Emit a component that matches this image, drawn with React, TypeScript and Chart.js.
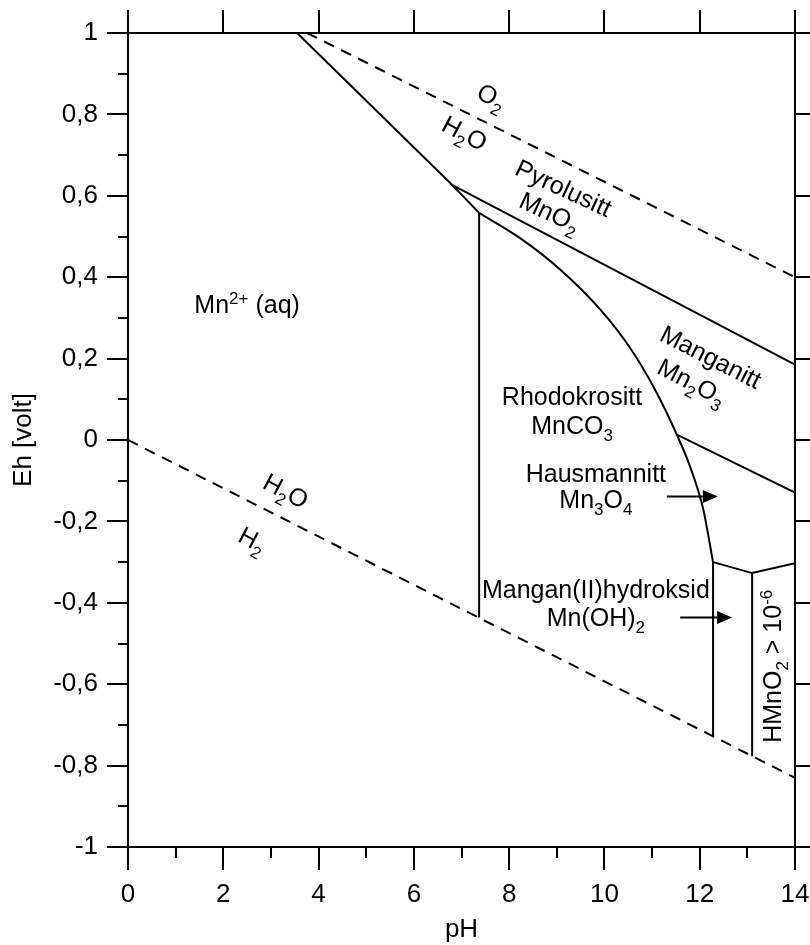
import { useEffect, useRef } from 'react';
import { Chart, registerables } from 'chart.js';

Chart.register(...registerables);

const FONT = '"Liberation Sans", Arial, Helvetica, sans-serif';

// Axis ranges
const PH_MIN = 0;
const PH_MAX = 14;
const EH_MIN = -1;
const EH_MAX = 1;

// Tick spacing (major ticks carry labels)
const PH_MAJOR = 2;
const PH_MINOR = 1;
const EH_MAJOR = 0.2;
const EH_MINOR = 0.1;

// Water stability limits, [pH, Eh]
const o2WaterLine = [[3.76, 1.0], [14, 0.4]];
const h2WaterLine = [[0, 0], [14, -0.83]];

// Stability-field boundaries of the Mn system, [pH, Eh]
const mnAqOxideLine = [[3.55, 1.0], [6.8, 0.627], [7.37, 0.558]];
const pyrolusiteManganiteLine = [[6.8, 0.627], [14, 0.185]];
const mnAqRhodochrositeLine = [[7.37, 0.558], [7.37, -0.436]];
const rhodochrositeOxideCurve = [
  [7.37, 0.558], [8.23, 0.496], [9.07, 0.419], [9.91, 0.321], [10.54, 0.226],
  [11.06, 0.124], [11.52, 0.013], [11.8, -0.066], [12.07, -0.168], [12.28, -0.3],
];
const manganiteHausmanniteLine = [[11.52, 0.013], [14, -0.129]];
const hausmanniteLowerLine = [[12.28, -0.3], [13.1, -0.327], [14, -0.303]];
const rhodochrositeHydroxideLine = [[12.28, -0.3], [12.28, -0.728]];
const hydroxideHmno2Line = [[13.1, -0.327], [13.1, -0.777]];

// Field names; {_x} is a subscript, {^x} a superscript
const fieldLabels = [
  { text: 'Mn{^2+} (aq)', pH: 2.5, Eh: 0.333, angle: 0 },
  { text: 'O{_2}', pH: 7.64, Eh: 0.845, angle: 28 },
  { text: 'H{_2}O', pH: 7.07, Eh: 0.755, angle: 28 },
  { text: 'Pyrolusitt', pH: 9.15, Eh: 0.62, angle: 25 },
  { text: 'MnO{_2}', pH: 8.86, Eh: 0.561, angle: 25 },
  { text: 'Manganitt', pH: 12.24, Eh: 0.205, angle: 27 },
  { text: 'Mn{_2}O{_3}', pH: 11.84, Eh: 0.144, angle: 27 },
  { text: 'Rhodokrositt', pH: 9.32, Eh: 0.107, angle: 0 },
  { text: 'MnCO{_3}', pH: 9.32, Eh: 0.036, angle: 0 },
  { text: 'Hausmannitt', pH: 9.82, Eh: -0.08, angle: 0 },
  { text: 'Mn{_3}O{_4}', pH: 9.82, Eh: -0.146, angle: 0 },
  { text: 'Mangan(II)hydroksid', pH: 9.82, Eh: -0.367, angle: 0 },
  { text: 'Mn(OH){_2}', pH: 9.82, Eh: -0.436, angle: 0 },
  { text: 'HMnO{_2} > 10{^-6}', pH: 13.52, Eh: -0.556, angle: -90 },
  { text: 'H{_2}O', pH: 3.32, Eh: -0.124, angle: 28 },
  { text: 'H{_2}', pH: 2.62, Eh: -0.244, angle: 28 },
];

// Pointer arrows for the narrow fields, from/to as [pH, Eh]
const pointerArrows = [
  { from: [11.31, -0.139], to: [12.38, -0.139] },
  { from: [11.59, -0.436], to: [12.68, -0.436] },
];

type Seg = { text: string; mode: 'n' | 'sub' | 'sup' };

function parseRich(s: string): Seg[] {
  const segs: Seg[] = [];
  const re = /\{([_^])([^}]*)\}/g;
  let last = 0;
  let m: RegExpExecArray | null;
  while ((m = re.exec(s))) {
    if (m.index > last) segs.push({ text: s.slice(last, m.index), mode: 'n' });
    segs.push({ text: m[2], mode: m[1] === '_' ? 'sub' : 'sup' });
    last = re.lastIndex;
  }
  if (last < s.length) segs.push({ text: s.slice(last), mode: 'n' });
  return segs;
}

function drawRich(ctx: CanvasRenderingContext2D, s: string, x: number, y: number, size: number, angleDeg: number) {
  const segs = parseRich(s);
  const fontFor = (mode: string) => `${mode === 'n' ? size : Math.round(size * 0.66)}px ${FONT}`;
  let total = 0;
  const widths = segs.map((seg) => {
    ctx.font = fontFor(seg.mode);
    const w = ctx.measureText(seg.text).width;
    total += w;
    return w;
  });
  ctx.save();
  ctx.translate(x, y);
  ctx.rotate((angleDeg * Math.PI) / 180);
  ctx.textBaseline = 'alphabetic';
  ctx.textAlign = 'left';
  ctx.fillStyle = '#000';
  let cx = -total / 2;
  const base = size * 0.36;
  segs.forEach((seg, i) => {
    ctx.font = fontFor(seg.mode);
    const dy = seg.mode === 'sub' ? size * 0.28 : seg.mode === 'sup' ? -size * 0.36 : 0;
    ctx.fillText(seg.text, cx, base + dy);
    cx += widths[i];
  });
  ctx.restore();
}

const fmt = (v: number) => String(Math.round(v * 10) / 10).replace('.', ',');

// Box frame with outward ticks on all four sides
const framePlugin = {
  id: 'frame',
  afterDraw(chart: any) {
    const { ctx, chartArea: a, scales } = chart;
    const xs = scales.x;
    const ys = scales.y;
    ctx.save();
    ctx.strokeStyle = '#000';
    ctx.lineWidth = 2;
    ctx.lineCap = 'butt';
    ctx.strokeRect(a.left, a.top, a.right - a.left, a.bottom - a.top);
    ctx.beginPath();
    const nEh = Math.round((EH_MAX - EH_MIN) / EH_MINOR);
    const ehEvery = Math.round(EH_MAJOR / EH_MINOR);
    for (let i = 0; i <= nEh; i++) {
      const v = EH_MIN + i * EH_MINOR;
      const py = Math.round(ys.getPixelForValue(v));
      const major = i % ehEvery === 0;
      const len = major ? 21 : 10;
      ctx.moveTo(a.left - len, py);
      ctx.lineTo(a.left, py);
      if (major) {
        ctx.moveTo(a.right, py);
        ctx.lineTo(a.right + 21, py);
      }
    }
    const nPh = Math.round((PH_MAX - PH_MIN) / PH_MINOR);
    const phEvery = Math.round(PH_MAJOR / PH_MINOR);
    for (let i = 0; i <= nPh; i++) {
      const v = PH_MIN + i * PH_MINOR;
      const px = Math.round(xs.getPixelForValue(v));
      const major = i % phEvery === 0;
      const len = major ? 23 : 11;
      ctx.moveTo(px, a.bottom);
      ctx.lineTo(px, a.bottom + len);
      if (major) {
        ctx.moveTo(px, a.top);
        ctx.lineTo(px, a.top - 23);
      }
    }
    ctx.stroke();
    ctx.restore();
  },
};

// Field names and pointer arrows
const annotationPlugin = {
  id: 'fieldNames',
  afterDatasetsDraw(chart: any) {
    const { ctx, scales } = chart;
    const xs = scales.x;
    const ys = scales.y;
    fieldLabels.forEach((l) => {
      drawRich(ctx, l.text, xs.getPixelForValue(l.pH), ys.getPixelForValue(l.Eh), 25, l.angle);
    });
    ctx.save();
    ctx.strokeStyle = '#000';
    ctx.fillStyle = '#000';
    ctx.lineWidth = 2;
    pointerArrows.forEach((ar) => {
      const x0 = xs.getPixelForValue(ar.from[0]);
      const y0 = ys.getPixelForValue(ar.from[1]);
      const x1 = xs.getPixelForValue(ar.to[0]);
      const y1 = ys.getPixelForValue(ar.to[1]);
      const head = 15;
      ctx.beginPath();
      ctx.moveTo(x0, y0);
      ctx.lineTo(x1 - head, y1);
      ctx.stroke();
      ctx.beginPath();
      ctx.moveTo(x1, y1);
      ctx.lineTo(x1 - head, y1 - 6.5);
      ctx.lineTo(x1 - head, y1 + 6.5);
      ctx.closePath();
      ctx.fill();
    });
    ctx.restore();
  },
};

const toPoints = (arr: number[][]) => arr.map(([x, y]) => ({ x, y }));

const clearScalePadding = (s: any) => {
  s.paddingTop = 0;
  s.paddingBottom = 0;
  s.paddingLeft = 0;
  s.paddingRight = 0;
};

export default function App() {
  const canvasRef = useRef<HTMLCanvasElement | null>(null);

  useEffect(() => {
    const canvas = canvasRef.current;
    if (!canvas) return;

    const solid = (data: number[][], extra: any = {}) => ({
      data: toPoints(data),
      showLine: true,
      borderColor: '#000',
      borderWidth: 2,
      pointRadius: 0,
      fill: false,
      ...extra,
    });
    const dashed = (data: number[][]) => solid(data, { borderDash: [11, 8], borderWidth: 2 });

    const tickFont = { family: FONT, size: 26 };

    const chart = new Chart(canvas, {
      type: 'scatter',
      data: {
        datasets: [
          dashed(o2WaterLine),
          dashed(h2WaterLine),
          solid(mnAqOxideLine),
          solid(pyrolusiteManganiteLine),
          solid(mnAqRhodochrositeLine),
          solid(rhodochrositeOxideCurve, { cubicInterpolationMode: 'monotone' }),
          solid(manganiteHausmanniteLine),
          solid(hausmanniteLowerLine),
          solid(rhodochrositeHydroxideLine),
          solid(hydroxideHmno2Line),
        ] as any,
      },
      options: {
        animation: false,
        responsive: false,
        devicePixelRatio: 1,
        layout: { padding: { top: 33, right: 15, left: 0, bottom: 0 } },
        plugins: { legend: { display: false }, tooltip: { enabled: false } },
        scales: {
          x: {
            type: 'linear',
            position: 'bottom',
            min: PH_MIN,
            max: PH_MAX,
            grid: { display: false, drawTicks: false },
            border: { display: false },
            ticks: {
              stepSize: PH_MAJOR,
              color: '#000',
              font: tickFont,
              padding: 32,
              maxRotation: 0,
              callback: (v: any) => fmt(Number(v)),
            },
            title: {
              display: true,
              text: 'pH',
              color: '#000',
              font: { family: FONT, size: 26 },
              padding: { top: 0, bottom: 0 },
            },
            afterFit: (s: any) => {
              s.height = 98;
              clearScalePadding(s);
            },
          },
          y: {
            type: 'linear',
            position: 'left',
            min: EH_MIN,
            max: EH_MAX,
            grid: { display: false, drawTicks: false },
            border: { display: false },
            ticks: {
              stepSize: EH_MAJOR,
              color: '#000',
              font: tickFont,
              padding: 30,
              callback: (v: any) => fmt(Number(v)),
            },
            title: {
              display: true,
              text: 'Eh [volt]',
              color: '#000',
              font: { family: FONT, size: 26 },
              padding: { top: 8, bottom: 0 },
            },
            afterFit: (s: any) => {
              s.width = 128;
              clearScalePadding(s);
            },
          },
        },
      } as any,
      plugins: [framePlugin, annotationPlugin],
    });

    return () => chart.destroy();
  }, []);

  return (
    <div style={{ position: 'absolute', left: 0, top: 0, width: 810, height: 945, background: '#fff' }}>
      <canvas ref={canvasRef} width={810} height={945} style={{ display: 'block' }} />
    </div>
  );
}
